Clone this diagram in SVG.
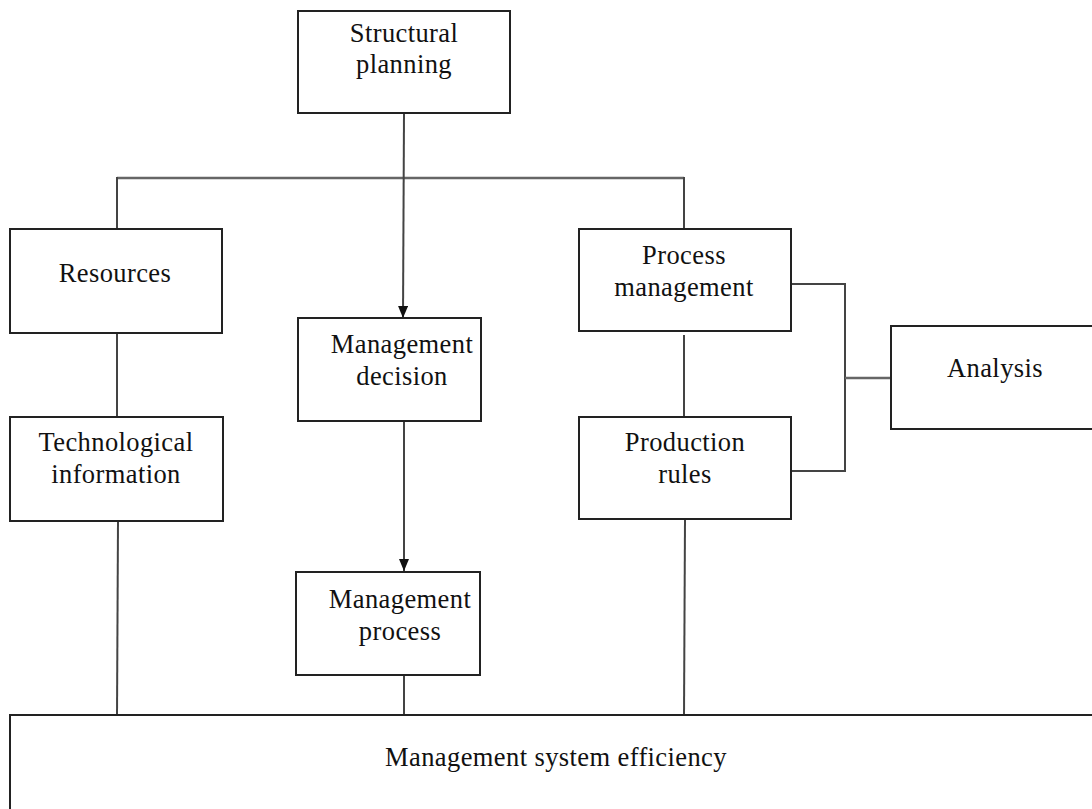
<svg xmlns="http://www.w3.org/2000/svg" width="1092" height="809" viewBox="0 0 1092 809">
<defs>
<style>
.box{fill:#fff;stroke:#222;stroke-width:2}
.t{font-family:"Liberation Serif","Times New Roman",serif;font-size:26.5px;fill:#111;text-anchor:middle;letter-spacing:0.4px}
.c{fill:none;stroke:#444;stroke-width:2}
.g{fill:none;stroke:#666;stroke-width:2.5}
</style>
<marker id="ah" viewBox="0 0 12 10" refX="12" refY="5" markerWidth="12" markerHeight="10" markerUnits="userSpaceOnUse" orient="auto"><path d="M0,0 L12,5 L0,10 z" fill="#111"/></marker>
</defs>
<rect width="1092" height="809" fill="#fff"/>
<g id="connectors">
<line class="g" x1="117" y1="178" x2="684" y2="178"/>
<line class="c" x1="117" y1="177" x2="117" y2="229"/>
<line class="c" x1="684" y1="177" x2="684" y2="229"/>
<line class="c" x1="404" y1="113" x2="403" y2="318" marker-end="url(#ah)"/>
<line class="c" x1="404" y1="421" x2="404" y2="571" marker-end="url(#ah)"/>
<line class="c" x1="117" y1="333" x2="117" y2="417"/>
<line class="c" x1="118" y1="521" x2="117" y2="715"/>
<line class="c" x1="684" y1="335" x2="684" y2="417"/>
<line class="c" x1="685" y1="519" x2="684" y2="715"/>
<line class="c" x1="404" y1="675" x2="404" y2="715"/>
<polyline class="c" points="791,284 845,284 845,471 791,471"/>
<line class="g" x1="845" y1="378" x2="891" y2="378"/>
</g>
<g id="structural-planning"><rect class="box" x="298" y="11" width="212" height="102"/><text class="t" x="404" y="42">Structural</text><text class="t" x="404" y="73">planning</text></g>
<g id="resources"><rect class="box" x="10" y="229" width="212" height="104"/><text class="t" x="115" y="282">Resources</text></g>
<g id="management-decision"><rect class="box" x="298" y="318" width="183" height="103"/><text class="t" x="402" y="353">Management</text><text class="t" x="402" y="385">decision</text></g>
<g id="process-management"><rect class="box" x="579" y="229" width="212" height="102"/><text class="t" x="684" y="264">Process</text><text class="t" x="684" y="296">management</text></g>
<g id="analysis"><rect class="box" x="891" y="326" width="210" height="103"/><text class="t" x="995" y="377">Analysis</text></g>
<g id="technological-information"><rect class="box" x="10" y="417" width="213" height="104"/><text class="t" x="116" y="451">Technological</text><text class="t" x="116" y="483">information</text></g>
<g id="production-rules"><rect class="box" x="579" y="417" width="212" height="102"/><text class="t" x="685" y="451">Production</text><text class="t" x="685" y="483">rules</text></g>
<g id="management-process"><rect class="box" x="296" y="572" width="184" height="103"/><text class="t" x="400" y="608">Management</text><text class="t" x="400" y="640">process</text></g>
<g id="management-system-efficiency"><rect class="box" x="10" y="715" width="1100" height="110"/><text class="t" x="556" y="766">Management system efficiency</text></g>
</svg>
